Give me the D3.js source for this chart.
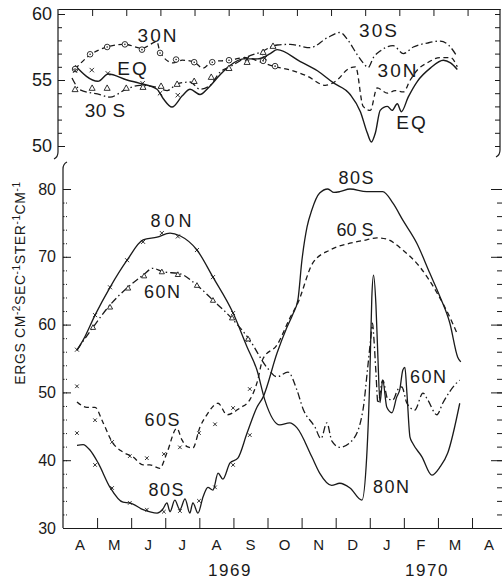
<!DOCTYPE html>
<html><head><meta charset="utf-8">
<script src="https://cdn.jsdelivr.net/npm/d3@7"></script>
<style>
html,body{margin:0;padding:0;background:#fff;}
svg{display:block;font-family:"Liberation Sans",Arial,sans-serif;}
</style></head>
<body>
<svg id="chart" width="503" height="579"></svg>
<script>
// ---------------- DATA (month index: 0 = 1 Apr 1969) ----------------
const monthLabels = ["A","M","J","J","A","S","O","N","D","J","F","M","A"];
const yearLabels = ["1969","1970"];
const topMajorTicks = [50,55,60];
const bottomMajorTicks = [30,40,50,60,70,80];

// upper panel (values 50-60)
const s30N = [[0.50,55.83],[0.94,56.9],[1.44,57.5],[1.96,57.7],[2.46,57.4],[2.90,57.9],[2.99,57.1],[3.37,56.3],[3.64,56.5],[3.96,56.4],[4.25,55.9],[4.52,56.4],[5.04,56.5],[5.48,56.7],[6.01,56.3],[6.30,56.05],[6.80,55.76],[7.30,55.3],[7.83,54.6],[8.18,55.0],[8.48,55.8],[8.72,56.0],[8.94,53.0],[9.15,52.7],[9.35,54.4],[9.65,54.0],[9.88,54.2],[10.12,54.1],[10.32,55.0],[10.53,55.76],[10.82,56.3],[11.20,56.7],[11.50,56.7],[11.70,56.0]];
const sEQ = [[0.50,56.1],[1.17,54.9],[1.47,55.45],[2.02,55.0],[2.40,54.75],[2.90,54.3],[3.08,53.6],[3.34,52.95],[3.64,53.8],[3.87,54.3],[4.16,53.9],[4.40,54.4],[4.75,55.4],[5.04,56.1],[5.43,56.6],[5.84,56.6],[6.22,57.0],[6.42,57.3],[7.10,56.4],[7.60,55.7],[8.06,54.8],[8.56,53.9],[8.86,52.6],[9.06,51.0],[9.18,50.3],[9.30,51.0],[9.44,52.7],[9.65,53.0],[9.79,52.7],[9.94,53.2],[10.06,52.6],[10.26,53.7],[10.53,54.9],[10.91,55.9],[11.29,56.5],[11.50,56.3],[11.70,55.8]];
const s30S = [[0.41,55.15],[0.65,54.25],[1.23,53.9],[1.52,53.7],[1.96,54.25],[2.40,54.6],[2.90,54.45],[3.20,54.2],[3.49,54.7],[3.87,54.85],[4.16,54.3],[4.46,54.6],[4.75,55.6],[5.04,56.0],[5.54,56.75],[5.92,57.1],[6.42,57.65],[6.80,57.7],[7.39,57.45],[7.89,58.2],[8.27,58.6],[8.50,58.0],[8.77,56.9],[8.94,56.3],[9.09,55.95],[9.24,56.7],[9.44,57.2],[9.82,57.6],[10.12,57.0],[10.41,57.5],[10.82,57.8],[11.20,57.95],[11.44,57.65],[11.70,56.75]];
const m30N = [[0.50,55.83],[0.94,56.95],[1.44,57.5],[1.96,57.7],[2.46,57.3],[2.99,57.05],[3.46,56.55],[3.99,56.35],[4.52,56.35],[5.01,56.5],[6.01,56.45],[6.36,56.05]];
const m30S = [[0.50,54.3],[1.00,54.4],[1.44,54.4],[2.00,54.4],[2.49,54.47],[3.02,54.55],[3.49,54.7],[3.99,54.92],[4.49,55.23],[5.01,55.9],[5.54,56.36],[6.01,57.12],[6.30,57.58]];
const mEQ = [[0.50,55.7],[0.99,55.75],[1.46,55.5],[2.48,54.75],[2.99,54.0],[3.51,53.85],[5.54,56.6],[6.06,56.65]];

// lower panel (values 30-80)
const s80N = [[0.41,56.25],[0.59,57.7],[0.94,61.4],[1.38,65.5],[1.88,69.5],[2.35,72.5],[2.76,72.9],[3.14,73.5],[3.43,73.1],[3.93,71.0],[4.40,67.0],[4.99,61.7],[5.40,56.7],[5.69,53.3],[5.92,48.9],[6.36,45.2],[6.65,45.5],[6.86,44.8],[7.30,40.5],[7.53,38.1],[7.88,36.3],[8.12,36.6],[8.42,35.9],[8.77,34.1],[8.91,40.5],[9.00,52.0],[9.06,64.0],[9.11,67.3],[9.18,63.0],[9.24,55.0],[9.30,48.5],[9.38,51.8],[9.50,47.8],[9.65,47.0],[9.79,49.3],[9.88,50.4],[9.97,53.3],[10.03,53.7],[10.09,49.9],[10.18,43.4],[10.26,42.5],[10.53,40.5],[10.82,37.8],[11.06,39.0],[11.29,41.1],[11.64,48.4]];
const s60N = [[0.41,56.25],[0.88,59.6],[1.38,62.9],[1.88,65.4],[2.35,67.3],[2.64,68.3],[2.93,67.8],[3.43,67.5],[3.93,65.8],[4.40,63.6],[4.99,60.7],[5.48,57.7],[5.98,53.7],[6.28,52.3],[6.60,53.0],[6.86,50.4],[7.04,47.6],[7.39,44.9],[7.57,43.2],[7.74,45.5],[7.89,42.8],[8.12,41.9],[8.50,43.0],[8.80,47.4],[8.94,53.7],[9.03,58.0],[9.08,60.2],[9.12,58.0],[9.18,53.0],[9.24,48.4],[9.38,51.8],[9.53,49.0],[9.68,48.9],[9.82,50.4],[9.94,50.8],[10.09,48.4],[10.32,47.4],[10.56,49.9],[10.70,48.9],[10.97,46.7],[11.14,48.4],[11.55,51.4],[11.64,51.8]];
const s80S = [[0.41,42.2],[0.59,42.3],[0.79,41.5],[1.03,39.6],[1.38,36.0],[1.76,33.8],[1.96,33.7],[2.35,32.7],[2.76,32.2],[2.93,32.8],[3.05,33.7],[3.14,32.4],[3.28,34.1],[3.43,32.7],[3.58,34.3],[3.72,32.2],[3.81,33.7],[3.96,32.2],[4.11,34.6],[4.25,36.0],[4.40,35.6],[4.55,38.1],[4.69,37.2],[4.90,39.6],[5.13,40.3],[5.40,44.0],[5.69,47.8],[5.87,49.3],[6.28,55.8],[6.57,59.6],[6.74,61.5],[6.89,63.6],[7.01,69.5],[7.16,74.4],[7.30,76.9],[7.53,79.4],[7.77,80.0],[7.95,79.5],[8.12,79.6],[8.42,80.0],[8.91,79.6],[9.38,79.6],[9.68,77.9],[9.97,75.4],[10.38,72.0],[10.76,67.6],[11.06,64.1],[11.35,60.2],[11.58,55.2],[11.67,54.5]];
const s60S = [[0.41,48.6],[0.70,47.8],[0.94,47.8],[1.17,45.6],[1.44,42.7],[1.76,41.2],[2.05,40.5],[2.35,39.3],[2.55,39.3],[2.84,38.8],[3.05,41.1],[3.34,44.7],[3.49,43.0],[3.64,42.0],[3.81,41.8],[4.02,44.9],[4.22,46.7],[4.55,48.4],[4.81,46.7],[5.19,47.7],[5.48,48.9],[5.69,51.4],[5.87,55.0],[6.28,57.0],[6.66,61.0],[6.89,63.2],[7.33,69.1],[7.83,71.0],[8.42,72.0],[8.91,72.5],[9.21,72.8],[9.50,72.6],[9.97,71.0],[10.47,68.5],[10.97,64.7],[11.29,61.7],[11.58,58.5]];
const m80N = [[0.41,56.3],[0.94,61.4],[1.38,65.5],[1.88,69.5],[2.35,72.2],[2.90,73.5],[3.37,73.0],[3.93,71.0],[4.40,67.0],[4.99,61.7],[5.43,57.7]];
const m60N = [[0.88,59.6],[1.38,62.6],[1.91,65.4],[2.38,67.2],[2.90,67.8],[3.37,67.4],[3.93,65.8],[4.40,63.6],[4.96,61.0],[5.43,57.9]];
const m60S = [[0.41,50.9],[0.94,45.9],[1.44,42.7],[1.96,40.6],[2.46,40.3],[2.96,40.9],[3.43,41.9],[3.99,44.0],[4.46,45.3],[4.99,47.7],[5.48,50.5]];
const m80S = [[0.41,44.0],[0.94,39.3],[1.44,35.9],[1.96,33.7],[2.46,32.7],[2.96,32.4],[3.43,32.5],[3.99,34.0],[4.46,36.0],[4.99,39.3],[5.48,43.7]];

// ---------------- LAYOUT ----------------
const svg = d3.select("#chart");
const ink = "#1a1a1a";
const xT = d3.scaleLinear().domain([0,12.95]).range([58,500]);
const yT = d3.scaleLinear().domain([50,60]).range([146,14]);
const xB = d3.scaleLinear().domain([0,12.85]).range([63,501]);
const yB = d3.scaleLinear().domain([30,80]).range([528,189]);

const DASH = "5,3.5", DASHDOT = "7,3,1.5,3";

function styleAxis(g){
  g.selectAll("line").attr("stroke",ink).attr("stroke-width",1);
  g.selectAll("path").attr("stroke",ink).attr("stroke-width",1.2);
  g.selectAll("text").attr("fill",ink).attr("font-family","Liberation Sans, Arial, sans-serif");
}

// ---- upper panel frame ----
svg.append("g").attr("transform","translate(0,9)")
  .call(d3.axisTop(xT).tickValues(d3.range(1,13)).tickSizeInner(-7).tickSizeOuter(0).tickFormat(""))
  .call(styleAxis);
svg.append("g").attr("transform","translate(58,0)")
  .call(d3.axisLeft(yT).tickValues(d3.range(50,61)).tickSize(-4).tickFormat(""))
  .call(g=>g.select(".domain").remove()).call(styleAxis);
svg.append("g").attr("transform","translate(58,0)")
  .call(d3.axisLeft(yT).tickValues(topMajorTicks).tickSize(-7).tickPadding(6))
  .call(g=>g.select(".domain").remove()).call(styleAxis)
  .call(g=>g.selectAll("text").attr("font-size",18));
svg.append("g").attr("transform","translate(500,0)")
  .call(d3.axisRight(yT).tickValues(d3.range(50,61)).tickSize(-5).tickFormat(""))
  .call(g=>g.select(".domain").remove()).call(styleAxis);
// axis lines with breaks
svg.append("path").attr("d","M58,9 L58,152 Q58,157 54,159").attr("fill","none").attr("stroke",ink).attr("stroke-width",1.2);
svg.append("path").attr("d","M500,9 L500,150 Q500,155 496,157").attr("fill","none").attr("stroke",ink).attr("stroke-width",1.2);
svg.append("path").attr("d","M67,162 Q63,164 63,169 L63,528").attr("fill","none").attr("stroke",ink).attr("stroke-width",1.2);

// ---- lower panel axes ----
svg.append("g").attr("transform","translate(0,528)")
  .call(d3.axisBottom(xB).tickValues(d3.range(1,13)).tickSizeInner(-10).tickSizeOuter(0).tickFormat(""))
  .call(styleAxis);
svg.append("g").attr("transform","translate(63,0)")
  .call(d3.axisLeft(yB).tickValues(d3.range(30,81,2)).tickSize(-4).tickFormat(""))
  .call(g=>g.select(".domain").remove()).call(styleAxis)
  .call(g=>g.selectAll("line").attr("stroke-dasharray","1.5,1.5"));
svg.append("g").attr("transform","translate(63,0)")
  .call(d3.axisLeft(yB).tickValues(bottomMajorTicks).tickSize(-8).tickPadding(7))
  .call(g=>g.select(".domain").remove()).call(styleAxis)
  .call(g=>g.selectAll("text").attr("font-size",16));
svg.append("g").attr("transform","translate(502,0)")
  .call(d3.axisRight(yB).tickValues(d3.range(30,81,2)).tickSize(-5).tickFormat(""))
  .call(g=>g.select(".domain").remove()).call(styleAxis);
svg.append("g").attr("transform","translate(502,0)")
  .call(d3.axisRight(yB).tickValues(bottomMajorTicks).tickSize(-11).tickFormat(""))
  .call(g=>g.select(".domain").remove()).call(styleAxis);

// month & year labels
svg.append("g").selectAll("text").data(monthLabels).join("text")
  .attr("x",(d,i)=>xB(i+0.5)).attr("y",550).attr("text-anchor","middle")
  .attr("font-size",15).attr("fill",ink).text(d=>d);
svg.append("g").selectAll("text").data(yearLabels).join("text")
  .attr("x",(d,i)=>[230,427][i]).attr("y",576).attr("text-anchor","middle")
  .attr("font-size",17).attr("letter-spacing",1.5).attr("fill",ink).text(d=>d);

// y-axis title
const yl = svg.append("text").attr("transform","translate(25,283) rotate(-90)")
  .attr("text-anchor","middle").attr("font-size",14).attr("letter-spacing",0.6).attr("fill",ink);
[["ERGS CM",0],["-2",1],["SEC",0],["-1",1],["STER",0],["-1",1],["CM",0],["-1",1]].forEach(([t,sup],i)=>{
  yl.append("tspan").attr("font-size",sup?10:14).attr("dy",sup?-5:(i>0?5:0)).text(t);
});

// ---- curves ----
function drawLine(data,x,y,dash,w){
  const line = d3.line().x(d=>x(d[0])).y(d=>y(d[1])).curve(d3.curveMonotoneX);
  svg.append("path").datum(data).attr("d",line).attr("fill","none").attr("stroke",ink)
    .attr("stroke-width",w||1.3).attr("stroke-dasharray",dash||null).attr("stroke-linejoin","round");
}
drawLine(s30N,xT,yT,DASH);
drawLine(sEQ,xT,yT,null,1.4);
drawLine(s30S,xT,yT,DASHDOT);
drawLine(s80N,xB,yB,null,1.3);
drawLine(s60N,xB,yB,DASHDOT);
drawLine(s80S,xB,yB,null,1.3);
drawLine(s60S,xB,yB,DASH);

// ---- markers ----
function circles(data,x,y){
  const g=svg.append("g");
  g.selectAll("circle.o").data(data).join("circle").attr("cx",d=>x(d[0])).attr("cy",d=>y(d[1])).attr("r",2.8)
    .attr("fill","#fff").attr("stroke",ink).attr("stroke-width",0.9);
  g.selectAll("circle.c").data(data).join("circle").attr("class","c").attr("cx",d=>x(d[0])).attr("cy",d=>y(d[1])).attr("r",0.8).attr("fill",ink);
}
function crosses(data,x,y,s){
  s=s||2.2;
  svg.append("g").selectAll("path").data(data).join("path")
    .attr("d",d=>{const cx=x(d[0]),cy=y(d[1]);return `M${cx-s},${cy-s}L${cx+s},${cy+s}M${cx-s},${cy+s}L${cx+s},${cy-s}`;})
    .attr("stroke",ink).attr("stroke-width",0.9).attr("fill","none");
}
function triangles(data,x,y,s){
  s=s||3;
  svg.append("g").selectAll("path").data(data).join("path")
    .attr("d",d=>{const cx=x(d[0]),cy=y(d[1]);return `M${cx},${cy-s}L${cx+s},${cy+s*0.8}L${cx-s},${cy+s*0.8}Z`;})
    .attr("stroke",ink).attr("stroke-width",0.9).attr("fill","#fff");
}
circles(m30N,xT,yT);
triangles(m30S,xT,yT);
crosses(mEQ,xT,yT);
crosses(m80N,xB,yB,2);
triangles(m60N,xB,yB,2.6);
crosses(m60S,xB,yB,1.8);
crosses(m80S,xB,yB,1.8);

// ---- series labels (pixel layout) ----
const labels = [
  ["30N",157,35,19,2],["EQ",132,68,19,2],["30 S",105,110,19,0.5],
  ["30S",378,30,19,2],["30N",397,70,19,2],["EQ",411,122,19,2],
  ["80N",171,221,18,4],["60N",162,292,18,1.5],["80S",356,178,18,1.5],["60 S",355,230,18,0],
  ["60S",162,420,18,1.5],["80S",166,490,18,1.5],["80N",391,487,18,1.5],["60N",428,377,18,1.5]
];
svg.append("g").selectAll("text").data(labels).join("text")
  .attr("x",d=>d[1]+d[4]/2).attr("y",d=>d[2]+d[3]*0.36).attr("text-anchor","middle")
  .attr("font-size",d=>d[3]).attr("letter-spacing",d=>d[4]).attr("fill",ink).text(d=>d[0]);
</script>
</body></html>
